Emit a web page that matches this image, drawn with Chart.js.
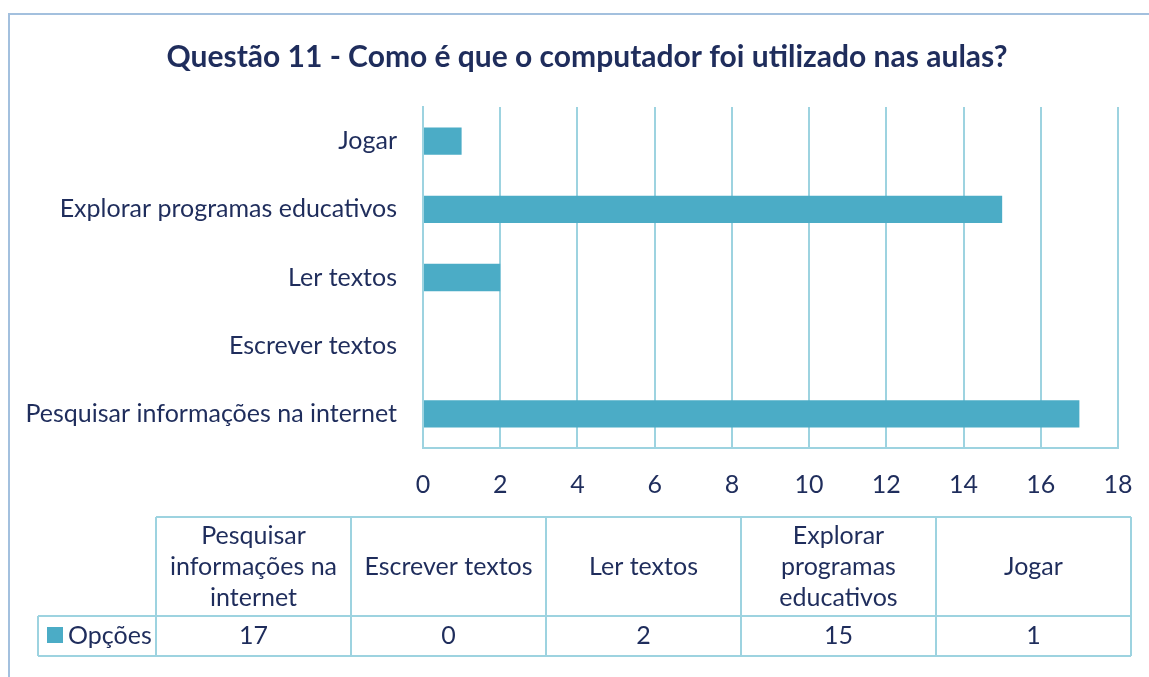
<!DOCTYPE html>
<html lang="pt">
<head>
<meta charset="utf-8">
<title>Questão 11</title>
<script src="https://cdn.jsdelivr.net/npm/chart.js@4.4.1/dist/chart.umd.min.js"></script>
<style>
    html, body { margin: 0; padding: 0; background: #ffffff; }
    #wrap { position: relative; width: 1149px; height: 677px; }
</style>
</head>
<body>
<div id="wrap"><canvas id="grafico"></canvas></div>
<script>
// Respostas à questão 11 (ordem do gráfico, de cima para baixo)
const categorias = ['Jogar', 'Explorar programas educativos', 'Ler textos', 'Escrever textos', 'Pesquisar informações na internet'];
const respostas = [1, 15, 2, 0, 17];
const nomeSerie = 'Opções';
const ticksX = [0, 2, 4, 6, 8, 10, 12, 14, 16, 18];
const titulo = 'Questão 11 - Como é que o computador foi utilizado nas aulas?';

// Cabeçalhos da tabela de dados (ordem inversa, como no Excel)
const cabecalhos = [
    ['Pesquisar', 'informações na', 'internet'],
    ['Escrever textos'],
    ['Ler textos'],
    ['Explorar', 'programas', 'educativos'],
    ['Jogar']
];

const corBarra = '#4bacc6';
const corGrelha = '#9dd3e0';
const corTexto = '#1f2d5c';
const fonte = 'Lato, "Open Sans", sans-serif';

// Moldura, título, tabela de dados e legenda
const tabelaDados = {
    id: 'tabelaDados',
    beforeDraw(chart) {
        const ctx = chart.ctx;
        ctx.save();
        ctx.strokeStyle = '#a3c0de';
        ctx.lineWidth = 2;
        ctx.beginPath();
        ctx.moveTo(9, 680);
        ctx.lineTo(9, 14);
        ctx.lineTo(1152, 14);
        ctx.stroke();

        ctx.fillStyle = corTexto;
        ctx.font = 'bold 30px ' + fonte;
        ctx.textAlign = 'center';
        ctx.textBaseline = 'middle';
        ctx.fillText(titulo, 587, 57);
        ctx.restore();
    },
    afterDraw(chart) {
        const ctx = chart.ctx;
        const valores = chart.data.datasets[0].data.slice().reverse();
        const colX = [156, 351, 546, 741, 936, 1131];
        const topo = 517, meio = 616, fundo = 656, esq = 38;

        ctx.save();
        ctx.strokeStyle = corGrelha;
        ctx.lineWidth = 2;
        ctx.beginPath();
        ctx.moveTo(colX[0], topo);
        ctx.lineTo(colX[5], topo);
        ctx.moveTo(esq, meio);
        ctx.lineTo(colX[5], meio);
        ctx.moveTo(esq, fundo);
        ctx.lineTo(colX[5], fundo);
        ctx.moveTo(esq, meio);
        ctx.lineTo(esq, fundo);
        colX.forEach(x => {
            ctx.moveTo(x, topo);
            ctx.lineTo(x, fundo);
        });
        ctx.stroke();

        ctx.fillStyle = corTexto;
        ctx.font = '25px ' + fonte;
        ctx.textAlign = 'center';
        ctx.textBaseline = 'middle';
        cabecalhos.forEach((linhas, i) => {
            const cx = (colX[i] + colX[i + 1]) / 2;
            const y0 = 567 - (linhas.length - 1) * 31 / 2;
            linhas.forEach((t, j) => ctx.fillText(t, cx, y0 + j * 31));
            ctx.fillText(String(valores[i]), cx, 636);
        });

        ctx.fillStyle = corBarra;
        ctx.fillRect(47, 627, 16, 16);
        ctx.fillStyle = corTexto;
        ctx.textAlign = 'left';
        ctx.fillText(nomeSerie, 68, 636);
        ctx.restore();
    }
};

new Chart(document.getElementById('grafico'), {
    type: 'bar',
    data: {
        labels: categorias,
        datasets: [{
            label: nomeSerie,
            data: respostas,
            backgroundColor: corBarra,
            barPercentage: 0.4,
            categoryPercentage: 1
        }]
    },
    options: {
        indexAxis: 'y',
        responsive: true,
        maintainAspectRatio: false,
        animation: false,
        layout: { padding: { left: 0, right: 31, top: 107, bottom: 169 } },
        plugins: {
            legend: { display: false },
            tooltip: { enabled: false },
            title: { display: false }
        },
        scales: {
            x: {
                min: 0,
                max: 18,
                afterBuildTicks: s => { s.ticks = ticksX.map(v => ({ value: v })); },
                afterFit: s => { s.height = 60; s.paddingLeft = 0; s.paddingRight = 0; },
                grid: { color: corGrelha, lineWidth: 2, drawTicks: false },
                border: { display: true, color: corGrelha, width: 2 },
                ticks: { color: corTexto, padding: 22, font: { family: fonte, size: 25 } }
            },
            y: {
                afterFit: s => { s.width = 423; s.paddingTop = 0; s.paddingBottom = 0; },
                grid: { display: false, drawTicks: false },
                border: { display: true, color: corGrelha, width: 2 },
                ticks: { color: corTexto, padding: 26, font: { family: fonte, size: 25 } }
            }
        }
    },
    plugins: [tabelaDados]
});
</script>
</body>
</html>
